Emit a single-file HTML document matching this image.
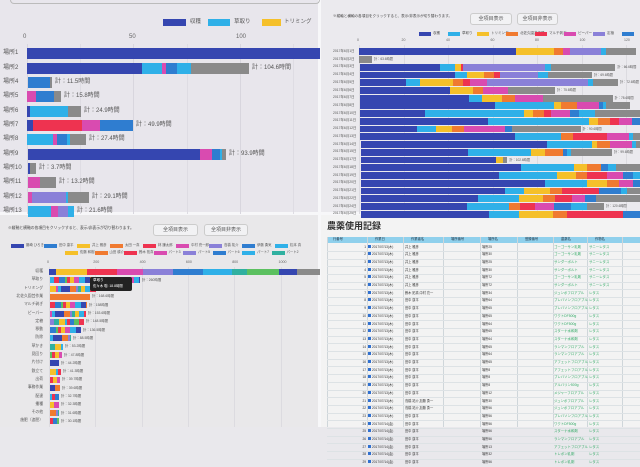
<!DOCTYPE html>
<html><head><meta charset="utf-8">
<style>
*{margin:0;padding:0;box-sizing:border-box}
body{width:640px;height:427px;overflow:hidden;background:#e9e8ec;position:relative;font-family:"Liberation Sans","Noto Sans CJK JP",sans-serif;color:#555}
.a{position:absolute}
.t{position:absolute;white-space:nowrap;line-height:1}
.btn{position:absolute;border:1px solid #ccc;border-radius:3px;background:#f2f2f4;font-size:5px;text-align:center;color:#555}
</style></head><body>
<div class="a" style="left:0;top:0;width:320px;height:214px;background:#e8e6ec"></div>
<div class="a" style="left:320px;top:0;width:320px;height:214px;background:#ebeaee"></div>
<div class="a" style="left:0;top:214px;width:320px;height:213px;background:#e9e8ea"></div>
<div class="a" style="left:320px;top:214px;width:320px;height:213px;background:#f3f3f3"></div>
<div class="a" style="left:318px;top:0;width:3px;height:427px;background:#f7f7f9"></div>
<div class="a" style="left:0;top:212px;width:640px;height:3px;background:#f7f7f9"></div>
<div id="root"></div>
<script>
const C={B:'#3546b0',C:'#2fb0e8',Y:'#f5c02a',O:'#f07a30',R:'#ee3350',M:'#d94bb0',P:'#8a80d8',B2:'#2f7dd0',G:'#8a8a8a',T:'#30b0a0',N:'#5cc060'};
let h='';
function box(x,y,w,hh,c,extra){h+=`<div class="a" style="left:${x}px;top:${y}px;width:${w}px;height:${hh}px;background:${c};${extra||''}"></div>`}
function txt(x,y,s,fs,col,extra){h+=`<div class="t" style="left:${x}px;top:${y}px;font-size:${fs}px;color:${col||'#555'};${extra||''}">${s}</div>`}
// ---- Q1
box(10,0,310,4,'transparent','border:1px solid #bbb;border-top:none;border-radius:0 0 4px 4px');
[[27,'0'],[133,'50'],[240,'100']].forEach(([x,s])=>{txt(x-4,34,s,6,'#666');box(x,44,1,170,'#d8d6de')});
[80,187,293].forEach(x=>box(x,44,1,170,'#dedce3'));
box(163,19,23,7,C.B);txt(190,20,'収穫',5.5);box(208,19,22,7,C.C);txt(234,20,'草取り',5.5);box(262,19,19,7,C.Y);txt(284,20,'トリミング',5.5);
const q1=[
['場所1',48,[[27,320,'B']],''],
['場所2',63,[[27,142,'B'],[142,162,'C'],[162,166,'M'],[166,177,'B2'],[177,191,'C'],[191,249,'G']],'計：104.6時間'],
['場所4',77,[[28,50,'B2'],[50,52,'G']],'計：11.5時間'],
['場所5',91,[[27,36,'M'],[36,54,'B2'],[54,61,'G']],'計：15.8時間'],
['場所6',106,[[27,30,'B'],[30,68,'C'],[68,81,'G']],'計：24.9時間'],
['場所7',120,[[27,33,'B'],[33,82,'R'],[82,100,'M'],[100,133,'B2']],'計：49.9時間'],
['場所8',134,[[27,53,'C'],[53,57,'M'],[57,67,'B2'],[67,70,'C'],[70,86,'G']],'計：27.4時間'],
['場所9',149,[[28,200,'B'],[200,212,'M'],[212,220,'B2'],[220,222,'C'],[222,226,'G']],'計：93.9時間'],
['場所10',163,[[28,30,'B'],[30,36,'G']],'計：3.7時間'],
['場所11',177,[[28,40,'M'],[40,56,'G']],'計：13.2時間'],
['場所12',192,[[28,32,'M'],[32,66,'P'],[66,68,'C'],[68,89,'G']],'計：29.1時間'],
['場所13',206,[[28,51,'C'],[51,58,'M'],[58,68,'P'],[68,74,'C']],'計：21.6時間']];
q1.forEach(([n,y,s,l])=>{txt(3,y+2,n,6,'#555');s.forEach(([a,b,c])=>box(a,y,b-a,11,C[c]));if(l)txt(s[s.length-1][1]+3,y+2,l,6,'#555')});
// ---- Q2
txt(333,15,'※縦軸と横軸の各項目をクリックすると、表示/非表示が切り替わります。',3.6,'#444');
h+='<div class="btn" style="left:470px;top:13px;width:42px;height:12px;line-height:11px">全項目表示</div><div class="btn" style="left:517px;top:13px;width:41px;height:12px;line-height:11px">全項目非表示</div>';
[['B','収穫'],['C','草取り'],['Y','トリミング'],['O','北佐久園芸作業'],['R','マルチ剥ぎ'],['M','ピーパー'],['P','定植'],['B2','']].forEach(([c,s],i)=>{let x=419+i*29;box(x,32,12,4,C[c]);txt(x+14,32,s,3.5,'#555')});
[0,20,40,60,80,100,120].forEach((v,i)=>{let x=359+i*44.5;txt(x-2,39,v,3.5,'#666');box(x,45,1,169,'#dcdbe0')});
const q2=[
[[588,'B'],[702,'Y'],[728,'O'],[750,'M'],[842,'P'],[858,'C'],[948,'G']],
[[156,'G']],
[[360,'B'],[406,'C'],[424,'Y'],[430,'R'],[674,'P'],[692,'C'],[886,'G']],
[[405,'B'],[440,'C'],[492,'Y'],[522,'O'],[540,'R'],[655,'P'],[684,'C'],[816,'G']],
[[258,'B'],[300,'C'],[398,'Y'],[428,'O'],[450,'R'],[500,'M'],[804,'P'],[818,'C'],[894,'G']],
[[390,'B'],[460,'Y'],[490,'O'],[565,'M'],[705,'G']],
[[447,'B'],[486,'C'],[546,'Y'],[586,'O'],[668,'M'],[878,'G']],
[[525,'B'],[702,'C'],[722,'Y'],[772,'O'],[838,'M'],[848,'B2'],[858,'C'],[930,'G']],
[[315,'B'],[612,'C'],[638,'Y'],[672,'O'],[692,'R'],[750,'M'],[776,'B2'],[826,'C'],[960,'G']],
[[503,'B'],[806,'C'],[834,'Y'],[870,'O'],[896,'R'],[935,'M'],[960,'B2']],
[[290,'B'],[348,'C'],[396,'Y'],[432,'O'],[556,'M'],[576,'B2'],[782,'G']],
[[585,'B'],[722,'C'],[758,'O'],[862,'R'],[928,'M'],[940,'C'],[960,'G']],
[[680,'B'],[816,'C'],[830,'Y'],[870,'O'],[936,'M'],[948,'C'],[960,'G']],
[[443,'B'],[634,'C'],[674,'Y'],[728,'O'],[740,'B2'],[752,'C'],[876,'G']],
[[528,'B'],[548,'Y'],[562,'G']],
[[604,'B'],[762,'C'],[800,'Y'],[844,'O'],[864,'B2'],[888,'C'],[960,'G']],
[[536,'B'],[712,'C'],[768,'Y'],[802,'O'],[860,'R'],[908,'M'],[938,'B2'],[960,'C']],
[[676,'B'],[800,'C'],[860,'Y'],[896,'O'],[940,'M'],[960,'B2']],
[[556,'B'],[612,'C'],[690,'Y'],[726,'O'],[838,'R'],[904,'B2'],[920,'C'],[960,'G']],
[[474,'B'],[596,'C'],[670,'Y'],[704,'O'],[756,'R'],[794,'M'],[828,'B2'],[960,'G']],
[[440,'B'],[568,'C'],[600,'O'],[644,'R'],[702,'M'],[752,'B2'],[800,'C'],[852,'G']],
[[508,'B'],[598,'C'],[700,'Y'],[740,'O'],[910,'R'],[960,'B2']]];
const dates=['1','2','3','4','5','6','7','8','10','11','12','13','14','15','17','18','19','20','21','22','24','25'];
q2.forEach((s,i)=>{let y=(145+23.2*i)/3;let x0=118+i*0.3;txt(333,y+1.5,'2017年6月'+dates[i]+'日',3.4,'#555');s.forEach(([e,c])=>{box(320+x0/3,y,(e-x0)/3,6.8,C[c]);x0=e});let end=320+s[s.length-1][0]/3;if(end<630)txt(end+2,y+2,'計：'+(60+i*3)+'.6時間',3.2,'#555')});
// ---- Q3
txt(8,227,'※縦軸と横軸の各項目をクリックすると、表示/非表示が切り替わります。',3.8,'#444');
h+='<div class="btn" style="left:153px;top:224px;width:45px;height:12px;line-height:11px">全項目表示</div><div class="btn" style="left:204px;top:224px;width:44px;height:12px;line-height:11px">全項目非表示</div>';
const lg1=[['B','藤崎 ひろき'],['B2','田中 康平'],['Y','井上 雅彦'],['O','太田 一真'],['R','林 謙太郎'],['M','中村 亮一郎'],['P','高橋 祐介'],['B2','伊藤 勇気'],['C','松本 真']];
lg1.forEach(([c,s],i)=>{let x=11+i*33;box(x,244,13,4,C[c]);txt(x+15,244,s,3.4,'#555')});
const lg2=[['Y','佐藤 和樹'],['O','山田 耕介'],['R','鈴木 拓真'],['M','パート3'],['P','パート5'],['B2','パート6'],['C','パート7'],['T','パート2']];
lg2.forEach(([c,s],i)=>{let x=65+i*29.5;box(x,251,13,4,C[c]);txt(x+15,251,s,3.4,'#555')});
[0,200,400,600,800,1000].forEach((v,i)=>{let x=49+i*46.3;txt(x-2,261,v,3.6,'#666');box(x,267,1,160,'#dcdbe0')});
const pal=['B','C','Y','O','R','M','P','B2','C','T','N','B','Y','R'];
const q3=[['収穫',320,''],['草取り',140,'計：260時間'],['トリミング',96,''],['北佐久園芸作業',90,'計：168.6時間'],['マルチ剥ぎ',87,'計：158時間'],['ピーパー',86,'計：153.6時間'],['定植',84,'計：148.5時間'],['移動',81,'計：136.5時間'],['防除',71,'計：88.5時間'],['草かき',63,'計：53.2時間'],['見回り',62,'計：47.8時間'],['片付け',59,'計：44.2時間'],['鉄立て',61,'計：41.3時間'],['出荷',60,'計：39.7時間'],['事務作業',60,'計：39.6時間'],['配達',59,'計：32.7時間'],['播種',59,'計：32.3時間'],['その他',59,'計：31.6時間'],['施肥（追肥）',59,'計：30.1時間']];
q3.forEach(([n,e,l],i)=>{let y=269+i*8.3;txt(0,y+1,n,3.8,'#555','width:43px;text-align:right');
 if(i==0){[[49,56,'B'],[56,87,'Y'],[87,117,'R'],[117,143,'M'],[143,173,'P'],[173,203,'B2'],[203,232,'C'],[232,247,'T'],[247,279,'N'],[279,297,'B'],[297,320,'G']].forEach(([a,b,c])=>box(a,y,b-a,6,C[c]))}
 else if(i==3){box(50,y,40,6,C.O)}
 else{let x=50,k=i;while(x<e){let w=2+((k*7)%5);w=Math.min(w,e-x);box(x,y,w,6,C[pal[k%pal.length]]);x+=w;k+=3}}
 if(l)txt(e+2,y+1.5,l,3.4,'#555')});
box(90,277,42,14,'#222','border-radius:2px');txt(93,279,'草取り',3.6,'#fff');txt(93,285,'佐々木 聡: 18.8時間',3.4,'#fff');
// ---- Q4
txt(327,222,'農薬使用記録',9,'#333','font-weight:bold');
box(327,237,313,6,'#8fd0ec');
const cols=[327,367,403,443,480,517,553,587,622];
const hdr=['行番号','作業日','作業者名','場所番号','場所名','登録番号','農薬名','作物名',''];
cols.forEach((x,i)=>{txt(x+(i?8:6),238,hdr[i],3.3,'#234');box(x,237,1,190,'#cfd6da')});
const people=['井上 雅彦','井上 雅彦','井上 雅彦','井上 雅彦','井上 雅彦','井上 雅彦','鈴木 拓真,中村 亮一','田中 康平'];
const pest=['ゴーゴーサン乳剤','ゴーゴーサン乳剤','サンダーボルト','サンダーボルト','ゴーゴーサン乳剤','サンダーボルト','ジュンポフロアブル','プレバソンフロアブル','プレバソンフロアブル','ワクトDF500g','ワクトDF500g','スターナ水和剤','スターナ水和剤','ランマンフロアブル','ランマンフロアブル','アフェットフロアブル','アフェットフロアブル','プレバソンフロアブル','アルバリン500g','メジャーフロアブル','ジュンポフロアブル','ジュンポフロアブル','プレバソンフロアブル','ワクトDF500g','スターナ水和剤','ランマンフロアブル','アフェットフロアブル','トレボン乳剤','トレボン乳剤'];
for(let i=0;i<29;i++){let y=244+i*7.7;box(327,y+6.9,313,0.6,'#dde2e5');
 txt(328,y+1.5,String(i+1),3.2,'#333','width:38px;text-align:right');
 box(368,y+0.5,3,3,'#3070d0');
 txt(372,y+1.5,'2017/07/'+(i<23?'13(木)':'14(金)'),3.2,'#333');
 txt(405,y+1.5,i<8?people[i]:(i==20||i==21?'高橋 祐介,加藤 勇一':'田中 康平'),3.2,'#333');
 txt(482,y+1.5,'場所'+[25,30,25,30,72,72,34,64,65,65,64,65,64,65,64,65,8,8,8,12,30,56,56,56,56,56,13,32,56][i],3.2,'#333');
 txt(554,y+1.5,pest[i],3.4,'#3a6');
 txt(589,y+1.5,i<6?'サニーレタス':'レタス',3.4,'#3a6');}
document.getElementById('root').innerHTML=h;
</script>
</body></html>
